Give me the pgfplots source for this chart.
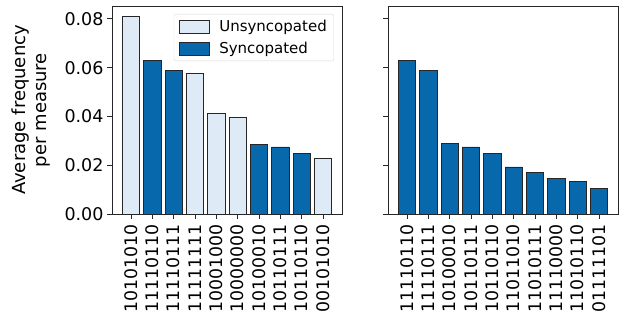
\documentclass[border=0pt]{standalone}
\usepackage{fontspec}
\setmainfont{DejaVu Sans}
\usepackage{pgfplots}
\pgfplotsset{compat=1.18}
\definecolor{lightbar}{RGB}{222,235,247}
\definecolor{darkbar}{RGB}{8,104,172}
\definecolor{axisgray}{RGB}{38,38,38}
\pgfplotsset{
  common/.style={
    scale only axis, width=230pt, height=208pt,
    anchor=south west,
    ymin=0, ymax=0.0853,
    xmin=-0.89, xmax=9.89,
    ytick={0,0.02,0.04,0.06,0.08},
    xtick={0,...,9},
    axis line style={axisgray, line width=0.9pt},
    tick style={axisgray, line width=0.9pt},
    tick align=outside, major tick length=5pt,
    xtick pos=bottom, ytick pos=left,
    ticklabel style={font=\fontsize{17.5}{20}\selectfont},
    xticklabel style={rotate=90, anchor=east, inner xsep=5pt, font=\fontsize{17.3}{20}\selectfont},
    yticklabel style={/pgf/number format/.cd, fixed, fixed zerofill, precision=2, assume math mode=true},
    ybar, bar width=0.8, bar shift=0pt,
    scaled y ticks=false,
  },
  barstyle/.style={draw=black!85, line width=0.7pt, fill=#1},
}
\begin{document}
\begin{tikzpicture}
\path (0pt,0pt) rectangle (628pt,324pt);
\begin{axis}[common, at={(112pt,110pt)},
  xticklabels={10101010,11110110,11110111,11111111,10001000,10000000,10100010,10110111,10110110,00101010},
  ylabel={Average frequency\\per measure},
  ylabel style={at={(axis description cs:-0.352,0.5)}, anchor=center, align=center, font=\fontsize{18}{21.5}\selectfont},
  legend style={at={(axis description cs:0.965,0.962)}, anchor=north east,
    draw=black!15, rounded corners=2pt, fill=white, font=\fontsize{15}{17}\selectfont,
    row sep=5pt, inner xsep=5pt, inner ysep=4pt, cells={anchor=west}},
  legend image code/.code={\draw[#1, sharp corners] (0pt,-6.5pt) rectangle (30pt,6.5pt); \path[draw=none,fill=none] (30pt,0pt) -- (38pt,0pt);},
]
\addplot[barstyle=lightbar] coordinates {(0,0.0810) (3,0.0575) (4,0.0414) (5,0.0396) (9,0.0228)};
\addlegendentry{Unsyncopated}
\addplot[barstyle=darkbar] coordinates {(1,0.0629) (2,0.0589) (6,0.0287) (7,0.0275) (8,0.0250)};
\addlegendentry{Syncopated}
\end{axis}
\begin{axis}[common, at={(388pt,110pt)},
  xticklabels={11110110,11110111,10100010,10110111,10110110,11011010,11010111,11110000,11010110,01111101},
  yticklabels={},
]
\addplot[barstyle=darkbar] coordinates {(0,0.0629) (1,0.0589) (2,0.0288) (3,0.0275) (4,0.0250) (5,0.0193) (6,0.0171) (7,0.0147) (8,0.0132) (9,0.0105)};
\end{axis}
\end{tikzpicture}
\end{document}
